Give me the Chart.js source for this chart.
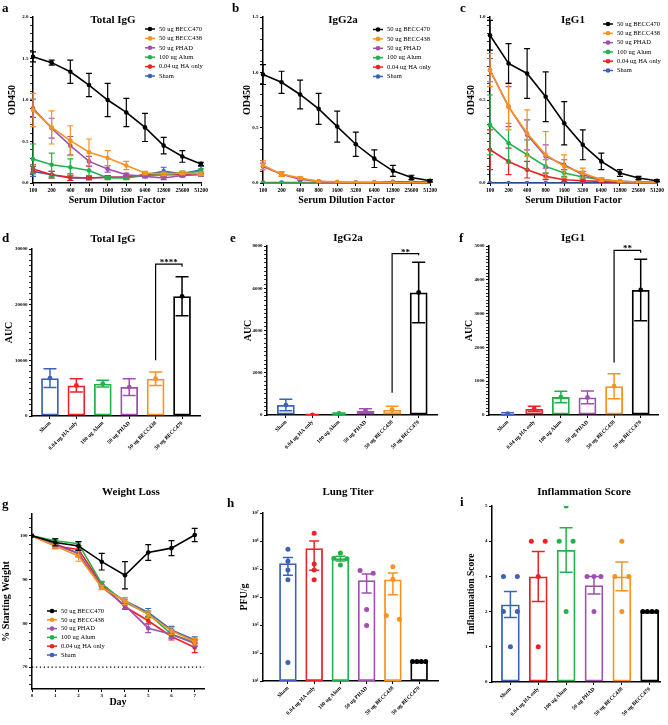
<!DOCTYPE html>
<html>
<head>
<meta charset="utf-8">
<title>Figure</title>
<script src="https://cdn.jsdelivr.net/npm/chart.js@4.4.1/dist/chart.umd.min.js"></script>
<style>
  body { margin: 0; background: #fff; }
  #fig { position: relative; width: 668px; height: 725px; overflow: hidden; background: #fff; font-family: 'Liberation Serif', 'Times New Roman', serif; }
  #fig canvas { position: absolute; }
  .letter, .title { position: absolute; font-weight: bold; line-height: 1; white-space: nowrap; color: #000; }
  .letter { font-size: 13px; }
  .title { font-size: 11px; transform: translateX(-50%); }
</style>
</head>
<body>
<div id="fig"></div>
<script>
// ---------- data ----------
const dilutions = ['100', '200', '400', '800', '1600', '3200', '6400', '12800', '25600', '51200'];
const lineGroups = ['50 ug BECC470', '50 ug BECC438', '50 ug PHAD', '100 ug Alum', '0.04 ug HA only', 'Sham'];
const lineColors = ['#000000', '#f7931e', '#9f4fb0', '#22b24c', '#ec2227', '#3d63b8'];

// a: Total IgG OD450 (rows follow lineGroups)
const totalIgGMean = [
  [1.52, 1.45, 1.34, 1.18, 1.00, 0.85, 0.67, 0.45, 0.32, 0.23],
  [0.88, 0.67, 0.51, 0.37, 0.30, 0.21, 0.12, 0.11, 0.12, 0.11],
  [0.90, 0.66, 0.45, 0.26, 0.17, 0.10, 0.08, 0.06, 0.09, 0.10],
  [0.29, 0.22, 0.19, 0.15, 0.06, 0.06, 0.09, 0.10, 0.12, 0.14],
  [0.17, 0.10, 0.07, 0.06, 0.07, 0.07, 0.10, 0.10, 0.10, 0.11],
  [0.14, 0.10, 0.06, 0.06, 0.07, 0.07, 0.10, 0.14, 0.11, 0.16]
];
const totalIgGSem = [
  [0.06, 0.03, 0.14, 0.14, 0.20, 0.17, 0.17, 0.10, 0.07, 0.02],
  [0.20, 0.20, 0.18, 0.16, 0.09, 0.05, 0.02, 0.02, 0.02, 0.02],
  [0.11, 0.12, 0.11, 0.06, 0.04, 0.02, 0.02, 0.02, 0.02, 0.02],
  [0.18, 0.14, 0.10, 0.06, 0.02, 0.02, 0.02, 0.02, 0.02, 0.03],
  [0.05, 0.04, 0.04, 0.02, 0.02, 0.02, 0.02, 0.02, 0.02, 0.02],
  [0.06, 0.04, 0.03, 0.02, 0.02, 0.02, 0.02, 0.05, 0.03, 0.04]
];

// b: IgG2a OD450
const igG2aMean = [
  [0.98, 0.91, 0.80, 0.67, 0.51, 0.35, 0.22, 0.11, 0.05, 0.02],
  [0.16, 0.08, 0.045, 0.015, 0.01, 0.005, 0.005, 0.005, 0.005, 0.005],
  [0.15, 0.08, 0.035, 0.015, 0.005, 0.005, 0.005, 0.005, 0.005, 0.005],
  [0, 0, 0, 0, 0, 0, 0, 0, 0, 0],
  [0, 0, 0, 0, 0, 0, 0, 0, 0, 0],
  [0.005, 0.005, 0.005, 0.005, 0.005, 0.005, 0.005, 0.01, 0.01, 0.01]
];
const igG2aSem = [
  [0.09, 0.10, 0.13, 0.14, 0.14, 0.11, 0.08, 0.05, 0.02, 0.01],
  [0.04, 0.02, 0.01, 0.005, 0, 0, 0, 0, 0, 0],
  [0.03, 0.02, 0.01, 0.005, 0, 0, 0, 0, 0, 0],
  [0, 0, 0, 0, 0, 0, 0, 0, 0, 0],
  [0, 0, 0, 0, 0, 0, 0, 0, 0, 0],
  [0, 0, 0, 0, 0, 0, 0, 0, 0, 0]
];

// c: IgG1 OD450
const igG1Mean = [
  [0.89, 0.72, 0.66, 0.52, 0.36, 0.23, 0.13, 0.06, 0.03, 0.014],
  [0.68, 0.46, 0.30, 0.17, 0.10, 0.06, 0.02, 0.01, 0.006, 0.004],
  [0.68, 0.46, 0.29, 0.16, 0.11, 0.05, 0.02, 0.01, 0.006, 0.004],
  [0.35, 0.24, 0.17, 0.10, 0.06, 0.036, 0.02, 0.01, 0.006, 0.004],
  [0.20, 0.13, 0.08, 0.04, 0.02, 0.014, 0.01, 0.006, 0.004, 0.003],
  [0, 0, 0, 0, 0, 0, 0, 0, 0, 0]
];
const igG1Sem = [
  [0.09, 0.12, 0.15, 0.15, 0.13, 0.09, 0.05, 0.02, 0.01, 0.005],
  [0.10, 0.14, 0.14, 0.14, 0.07, 0.03, 0.01, 0.005, 0, 0],
  [0.07, 0.12, 0.09, 0.07, 0.03, 0.02, 0.01, 0.005, 0, 0],
  [0.18, 0.12, 0.09, 0.04, 0.02, 0.01, 0.005, 0, 0, 0],
  [0.12, 0.08, 0.05, 0.02, 0.01, 0.005, 0, 0, 0, 0],
  [0, 0, 0, 0, 0, 0, 0, 0, 0, 0]
];

// d-f, h, i: group order on the bar panels
const barGroups = ['Sham', '0.04 ug HA only', '100 ug Alum', '50 ug PHAD', '50 ug BECC438', '50 ug BECC470'];
const barColors = ['#3d63b8', '#ec2227', '#22b24c', '#9f4fb0', '#f7931e', '#000000'];

const aucTotal = [6800, 5500, 5800, 5200, 6700, 21500];
const aucTotalSem = [1700, 1200, 600, 1500, 1200, 3500];
const aucG2a = [470, 10, 70, 200, 250, 5800];
const aucG2aSem = [270, 10, 30, 90, 170, 1430];
const aucG1 = [40, 180, 530, 520, 850, 3700];
const aucG1Sem = [30, 80, 170, 190, 370, 910];

const sigTotal = { text: '****', from: 4, to: 5, left: 10000, top: 27300, right: 26800 };
const sigG2a = { text: '**', from: 4, to: 5, left: 1050, top: 7640, right: 7560 };
const sigG1 = { text: '**', from: 4, to: 5, left: 1550, top: 4870, right: 4800 };

// g: weight loss (rows follow lineGroups)
const days = [0, 1, 2, 3, 4, 5, 6, 7];
const weightMean = [
  [100, 98.5, 97.7, 94.1, 91.0, 96.2, 97.2, 100.2],
  [100, 97.7, 95.4, 88.2, 85.1, 82.0, 78.3, 75.8],
  [100, 97.9, 96.0, 88.3, 84.1, 78.9, 77.5, 75.4],
  [100, 98.9, 98.2, 89.1, 84.8, 82.2, 77.5, 75.6],
  [100, 97.7, 96.9, 88.9, 83.8, 80.6, 77.0, 74.5],
  [100, 98.2, 96.0, 88.3, 85.2, 82.5, 78.5, 76.2]
];
const weightSem = [
  [0, 0.8, 1.0, 1.9, 3.1, 1.8, 1.7, 1.5],
  [0, 0.5, 1.2, 0.5, 0.8, 0.8, 0.8, 0.7],
  [0, 0.5, 0.8, 0.5, 0.8, 1.0, 1.0, 0.7],
  [0, 0.5, 0.5, 0.5, 0.6, 0.6, 0.7, 0.7],
  [0, 0.6, 0.8, 0.5, 0.6, 0.7, 0.8, 1.2],
  [0, 0.5, 0.7, 0.5, 0.7, 0.9, 0.8, 0.7]
];
const weightFloor = 70;
const dayAxisMax = 7.4;

// h: lung titer PFU/g (rows follow barGroups)
const titerDots = [
  [510000, 190000, 93000, 41000, 46],
  [1900000, 150000, 93000, 41000],
  [370000, 240000, 230000, 140000],
  [88000, 70000, 3600, 950],
  [120000, 43000, 2200, 1600],
  [50, 50, 50, 50]
];
const titerMean = [160000, 550000, 240000, 40000, 42000, 50];
const titerSem = [100000, 460000, 45000, 26000, 30000, 0];

// i: inflammation score
const inflDots = [
  [3, 3, 2, 2, 1],
  [4, 4, 3, 1],
  [5, 4, 4, 2],
  [3, 3, 3, 2],
  [4, 3, 3, 2],
  [2, 2, 2, 2]
];
const inflMean = [2.2, 3.0, 3.75, 2.75, 3.0, 2.0];
const inflSem = [0.37, 0.71, 0.63, 0.25, 0.41, 0];

// ---------- setup ----------
const FONT = "'Liberation Serif', 'Times New Roman', serif";
Chart.defaults.font.family = FONT;
Chart.defaults.font.weight = 'bold';
Chart.defaults.color = '#000';
const fig = document.getElementById('fig');

function addCanvas(id, left, top, w, h) {
  const c = document.createElement('canvas');
  c.id = id;
  c.width = w;
  c.height = h;
  c.style.left = left + 'px';
  c.style.top = top + 'px';
  c.style.width = w + 'px';
  c.style.height = h + 'px';
  fig.appendChild(c);
  return c;
}

function addText(cls, text, x, y) {
  const d = document.createElement('div');
  d.className = cls;
  d.textContent = text;
  d.style.left = x + 'px';
  d.style.top = y + 'px';
  fig.appendChild(d);
}

function steps(from, to, step) {
  const out = [];
  for (let k = 0; from + k * step <= to + step * 1e-6; k++) out.push(+(from + k * step).toFixed(6));
  return out;
}

// error bars drawn right after their own dataset, so layering follows the datasets
const errorBars = {
  id: 'errorBars',
  afterDatasetDraw(chart, args, opts) {
    const ds = chart.data.datasets[args.index];
    if (!ds.errors) return;
    const meta = args.meta;
    const ys = chart.scales[meta.yAxisID];
    const ctx = chart.ctx;
    const cap = opts.cap || 3;
    ctx.save();
    ctx.lineWidth = opts.width || 1.2;
    meta.data.forEach((el, i) => {
      const e = ds.errors[i];
      if (!e) return;
      const v = meta.controller.getParsed(i).y;
      const yTop = ys.getPixelForValue(v + e);
      const low = Math.max(v - e, ys.min);
      const yBot = ys.getPixelForValue(low);
      ctx.strokeStyle = Array.isArray(ds.borderColor) ? ds.borderColor[i] : ds.borderColor;
      ctx.beginPath();
      ctx.moveTo(el.x, yTop);
      ctx.lineTo(el.x, yBot);
      ctx.moveTo(el.x - cap, yTop);
      ctx.lineTo(el.x + cap, yTop);
      if (v - e > ys.min) {
        ctx.moveTo(el.x - cap, yBot);
        ctx.lineTo(el.x + cap, yBot);
      }
      ctx.stroke();
    });
    ctx.restore();
  }
};

// small in-plot key: line + dot + label per series
const seriesKey = {
  id: 'seriesKey',
  afterDraw(chart, args, opts) {
    if (opts.x === undefined) return;
    const ctx = chart.ctx;
    ctx.save();
    ctx.font = (opts.size || 6.5) + 'px ' + FONT;
    ctx.textBaseline = 'middle';
    chart.data.datasets.filter(d => d.inKey).forEach((ds, k) => {
      const y = opts.y + k * opts.dy;
      ctx.strokeStyle = ds.borderColor;
      ctx.fillStyle = ds.borderColor;
      ctx.lineWidth = 1.5;
      ctx.beginPath();
      ctx.moveTo(opts.x, y);
      ctx.lineTo(opts.x + 10, y);
      ctx.stroke();
      ctx.beginPath();
      ctx.arc(opts.x + 5, y, 2.3, 0, Math.PI * 2);
      ctx.fill();
      ctx.fillStyle = '#000';
      ctx.fillText(ds.label, opts.x + 14, y);
    });
    ctx.restore();
  }
};

// significance bracket between two groups
const sigBracket = {
  id: 'sigBracket',
  afterDraw(chart, args, opts) {
    if (!opts.text) return;
    const xs = chart.scales.x, ys = chart.scales.y, ctx = chart.ctx;
    const x1 = xs.getPixelForValue(opts.from), x2 = xs.getPixelForValue(opts.to);
    const yl = ys.getPixelForValue(opts.left), yt = ys.getPixelForValue(opts.top), yr = ys.getPixelForValue(opts.right);
    ctx.save();
    ctx.strokeStyle = '#000';
    ctx.lineWidth = 1.2;
    ctx.beginPath();
    ctx.moveTo(x1, yl);
    ctx.lineTo(x1, yt);
    ctx.lineTo(x2, yt);
    ctx.lineTo(x2, yr);
    ctx.stroke();
    ctx.fillStyle = '#000';
    ctx.font = 'bold 9px ' + FONT;
    ctx.textAlign = 'center';
    ctx.textBaseline = 'alphabetic';
    ctx.fillText(opts.text, (x1 + x2) / 2, yt + 1);
    ctx.restore();
  }
};

Chart.register(errorBars, seriesKey, sigBracket);

function valueAxis(min, max, tickValues, isMajor, label, title, width, titleSize) {
  return {
    type: 'linear',
    min: min,
    max: max,
    border: { color: '#000', width: 1.5 },
    grid: {
      drawOnChartArea: false, tickLength: 3, tickColor: '#000',
      tickWidth: c => (c.tick && isMajor(c.tick.value)) ? 1.2 : 0.8
    },
    ticks: {
      font: { size: 5, weight: 'bold' }, color: '#000', padding: 1.5, autoSkip: false,
      callback: v => isMajor(v) ? label(v) : ''
    },
    title: { display: true, text: title, font: { size: titleSize || 10, weight: 'bold' }, color: '#000', padding: 0 },
    afterBuildTicks: s => { s.ticks = tickValues.map(v => ({ value: v })); },
    afterFit: s => { s.width = width; }
  };
}

function dilutionAxis(height) {
  return {
    type: 'category',
    offset: false,
    border: { color: '#000', width: 1.5 },
    grid: { drawOnChartArea: false, offset: false, tickLength: 3, tickColor: '#000' },
    ticks: { font: { size: 5.5, weight: 'bold' }, color: '#000', maxRotation: 0, autoSkip: false, padding: 1 },
    title: { display: true, text: 'Serum Dilution Factor', font: { size: 10, weight: 'bold' }, color: '#000', padding: 0 },
    afterFit: s => { s.height = height; }
  };
}

function groupAxis(min, max, height) {
  return {
    type: 'linear',
    min: min,
    max: max,
    offset: false,
    border: { color: '#000', width: 1.5 },
    grid: { drawOnChartArea: false, offset: false, tickLength: 3, tickColor: '#000' },
    ticks: {
      font: { size: 5.5, weight: 'bold' }, color: '#000', autoSkip: false,
      minRotation: 45, maxRotation: 45, padding: 1,
      callback: v => barGroups[v]
    },
    afterBuildTicks: s => { s.ticks = barGroups.map((g, i) => ({ value: i })); },
    afterFit: s => { s.height = height; }
  };
}

const halfStep = v => Math.abs(v * 2 - Math.round(v * 2)) < 1e-6;

function odChart(id, pad, yw, xh, means, sems, yMax, minorStep, key) {
  const datasets = lineGroups.map((g, k) => ({
    label: g,
    inKey: true,
    data: means[k],
    errors: sems[k],
    borderColor: lineColors[k],
    backgroundColor: lineColors[k],
    borderWidth: 1.6,
    pointRadius: 2.3,
    pointBorderWidth: 0,
    tension: 0
  }));
  return new Chart(document.getElementById(id), {
    type: 'line',
    data: { labels: dilutions, datasets: datasets },
    options: {
      responsive: false,
      animation: false,
      layout: { padding: pad },
      plugins: {
        legend: { display: false },
        tooltip: { enabled: false },
        errorBars: { cap: 3, width: 1.2 },
        seriesKey: key
      },
      scales: {
        x: dilutionAxis(xh),
        y: valueAxis(0, yMax, steps(0, yMax, minorStep), halfStep, v => v.toFixed(1), 'OD450', yw)
      }
    }
  });
}

function barSet(values, sems) {
  return {
    type: 'bar',
    order: 2,
    data: values.map((v, i) => ({ x: i, y: v })),
    errors: sems,
    borderColor: barColors,
    backgroundColor: 'rgba(0,0,0,0)',
    borderWidth: 1.8,
    borderSkipped: false,
    barPercentage: 0.67,
    categoryPercentage: 1
  };
}

function meanDots(values) {
  return {
    type: 'scatter',
    order: 1,
    data: values.map((v, i) => ({ x: i, y: v })),
    pointRadius: 2.4,
    pointBackgroundColor: barColors,
    pointBorderWidth: 0
  };
}

// spread overlapping replicate dots side by side (like a column scatter)
function spreadDots(values, close) {
  const order = values.map((v, i) => i).sort((a, b) => values[b] - values[a]);
  const offsets = new Array(values.length).fill(0);
  let run = [order[0]];
  const flush = () => {
    const n = run.length;
    run.forEach((idx, k) => { offsets[idx] = n > 1 ? (k / (n - 1) - 0.5) * 0.5 : 0; });
  };
  for (let j = 1; j < order.length; j++) {
    if (close(values[order[j - 1]], values[order[j]])) {
      run.push(order[j]);
    } else {
      flush();
      run = [order[j]];
    }
  }
  flush();
  return offsets;
}

function replicateDots(rows, close) {
  const pts = [], cols = [];
  rows.forEach((vals, i) => {
    const off = spreadDots(vals, close);
    vals.forEach((v, k) => {
      pts.push({ x: i + off[k], y: v });
      cols.push(barColors[i]);
    });
  });
  return { type: 'scatter', order: 1, data: pts, pointRadius: 2.5, pointBackgroundColor: cols, pointBorderWidth: 0 };
}

function barChart(id, pad, xh, xRange, yAxis, datasets, cap, sig) {
  return new Chart(document.getElementById(id), {
    type: 'bar',
    data: { datasets: datasets },
    options: {
      responsive: false,
      animation: false,
      layout: { padding: pad },
      plugins: {
        legend: { display: false },
        tooltip: { enabled: false },
        errorBars: { cap: cap, width: 1.5 },
        sigBracket: sig || {}
      },
      scales: { x: groupAxis(xRange[0], xRange[1], xh), y: yAxis }
    }
  });
}

// ---------- canvases, letters, titles ----------
addCanvas('cA', 0, 0, 220, 210);
addCanvas('cB', 220, 0, 220, 210);
addCanvas('cC', 440, 0, 228, 210);
addCanvas('cD', 0, 215, 220, 255);
addCanvas('cE', 220, 215, 228, 255);
addCanvas('cF', 440, 215, 228, 255);
addCanvas('cG', 0, 470, 220, 255);
addCanvas('cH', 220, 470, 228, 255);
addCanvas('cI', 440, 470, 228, 255);

addText('letter', 'a', 2, 1);
addText('letter', 'b', 232, 1);
addText('letter', 'c', 460, 1);
addText('letter', 'd', 2, 231);
addText('letter', 'e', 230, 231);
addText('letter', 'f', 459, 231);
addText('letter', 'g', 2, 497);
addText('letter', 'h', 227, 496);
addText('letter', 'i', 460, 495);

addText('title', 'Total IgG', 113, 14);
addText('title', 'IgG2a', 343, 14);
addText('title', 'IgG1', 573, 14);
addText('title', 'Total IgG', 113, 233);
addText('title', 'IgG2a', 348, 232);
addText('title', 'IgG1', 573, 232);
addText('title', 'Weight Loss', 131, 486);
addText('title', 'Lung Titer', 348, 486);
addText('title', 'Inflammation Score', 584, 486);

// ---------- a, b, c ----------
odChart('cA', { left: 6, right: 19, top: 17, bottom: 4 }, 27, 23, totalIgGMean, totalIgGSem, 2.0, 0.1,
  { x: 145, y: 29, dy: 9.4 });
odChart('cB', { left: 21, right: 10, top: 17, bottom: 4 }, 22, 23, igG2aMean, igG2aSem, 1.5, 0.1,
  { x: 153, y: 29.5, dy: 9.4 });
odChart('cC', { left: 25, right: 11, top: 17, bottom: 4 }, 25, 23, igG1Mean, igG1Sem, 1.0, 0.05,
  { x: 163, y: 24, dy: 9.3 });

// ---------- d, e, f ----------
barChart('cD', { left: 3, right: 20, top: 34, bottom: 14 }, 40, [-0.68, 5.68],
  valueAxis(0, 30000, steps(0, 30000, 1000), v => v % 10000 === 0, v => v, 'AUC', 29),
  [barSet(aucTotal, aucTotalSem), meanDots(aucTotal)], 6.5, sigTotal);
barChart('cE', { left: 22, right: 11, top: 31, bottom: 15 }, 40, [-0.71, 5.69],
  valueAxis(0, 8000, steps(0, 8000, 200), v => v % 2000 === 0, v => v, 'AUC', 25),
  [barSet(aucG2a, aucG2aSem), meanDots(aucG2a)], 6.5, sigG2a);
barChart('cF', { left: 23, right: 10, top: 31, bottom: 15 }, 40, [-0.7, 5.65],
  valueAxis(0, 5000, steps(0, 5000, 100), v => v % 1000 === 0, v => v, 'AUC', 26),
  [barSet(aucG1, aucG1Sem), meanDots(aucG1)], 6.5, sigG1);

// ---------- g ----------
const weightSets = lineGroups.map((g, k) => ({
  label: g,
  inKey: true,
  data: days.map((d, i) => ({ x: d, y: weightMean[k][i] })),
  errors: weightSem[k],
  borderColor: lineColors[k],
  backgroundColor: lineColors[k],
  borderWidth: 1.6,
  pointRadius: 2.3,
  pointBorderWidth: 0,
  tension: 0
}));
weightSets.push({
  data: [{ x: 0, y: weightFloor }, { x: dayAxisMax, y: weightFloor }],
  borderColor: '#000',
  borderWidth: 1.2,
  borderDash: [1.3, 2.6],
  pointRadius: 0
});
new Chart(document.getElementById('cG'), {
  type: 'line',
  data: { datasets: weightSets },
  options: {
    responsive: false,
    animation: false,
    layout: { padding: { left: 0, right: 16, top: 44, bottom: 17 } },
    plugins: {
      legend: { display: false },
      tooltip: { enabled: false },
      errorBars: { cap: 3, width: 1.2 },
      seriesKey: { x: 47, y: 141, dy: 8.8 }
    },
    scales: {
      x: {
        type: 'linear', min: 0, max: dayAxisMax,
        border: { color: '#000', width: 1.5 },
        grid: { drawOnChartArea: false, tickLength: 3, tickColor: '#000' },
        ticks: { font: { size: 5, weight: 'bold' }, color: '#000', autoSkip: false, maxRotation: 0, padding: 1 },
        title: { display: true, text: 'Day', font: { size: 10, weight: 'bold' }, color: '#000', padding: 0 },
        afterBuildTicks: s => { s.ticks = days.map(d => ({ value: d })); },
        afterFit: s => { s.height = 19; }
      },
      y: valueAxis(65, 105, steps(66, 104, 2), v => v % 10 === 0, v => v, '% Starting Weight', 32)
    }
  }
});

// ---------- h ----------
const supers = ['\u2070', '\u00b9', '\u00b2', '\u00b3', '\u2074', '\u2075', '\u2076', '\u2077'];
const decades = [10, 100, 1000, 10000, 100000, 1000000, 10000000];
const titerAxis = valueAxis(10, 10000000, decades, () => true, v => '10' + supers[Math.round(Math.log10(v))], 'PFU/g', 25);
titerAxis.type = 'logarithmic';
barChart('cH', { left: 18, right: 10, top: 43, bottom: 4 }, 40, [-0.95, 5.72], titerAxis,
  [barSet(titerMean, titerSem), replicateDots(titerDots, (a, b) => Math.abs(Math.log10(a) - Math.log10(b)) < 0.15)], 5);

// ---------- i ----------
barChart('cI', { left: 26, right: 8, top: 36, bottom: 3 }, 40, [-0.66, 5.37],
  valueAxis(0, 5, steps(0, 5, 1), () => true, v => v, 'Inflammation Score', 26, 9.5),
  [barSet(inflMean, inflSem), replicateDots(inflDots, (a, b) => a === b)], 6.5);
</script>
</body>
</html>
